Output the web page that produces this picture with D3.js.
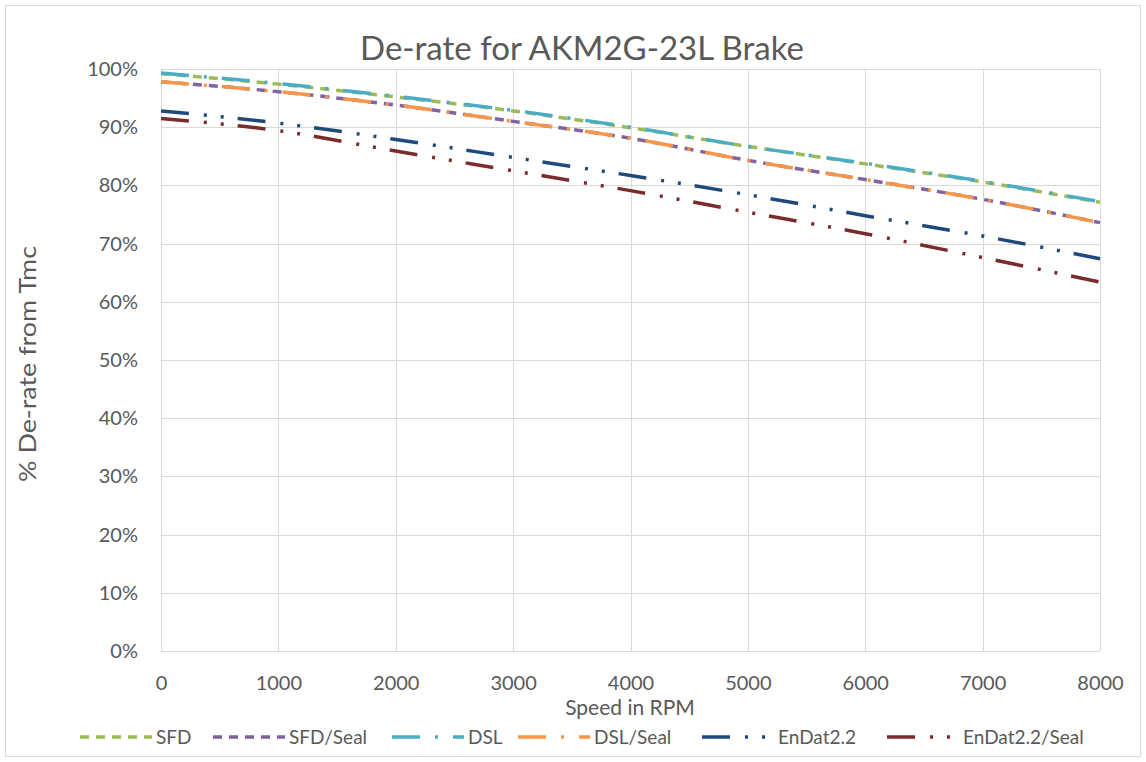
<!DOCTYPE html>
<html>
<head>
<meta charset="utf-8">
<script src="https://cdn.jsdelivr.net/npm/d3@7"></script>
<style>
  body { margin: 0; background: #fff; }
  svg { display: block; }
  text { font-family: Lato, "Open Sans", sans-serif; fill: #595959; }
</style>
</head>
<body>
<svg id="chart" width="1146" height="762"></svg>
<script>
// ---- data ----
const speeds = [0, 1000, 2000, 3000, 4000, 5000, 6000, 7000, 8000];
const seriesNames = ["SFD", "SFD/Seal", "DSL", "DSL/Seal", "EnDat2.2", "EnDat2.2/Seal"];
const sfd       = [99.2, 97.4, 95.2, 92.8, 89.9, 86.7, 83.7, 80.6, 77.1];
const sfdSeal   = [97.8, 96.1, 93.8, 91.0, 88.1, 84.3, 81.0, 77.6, 73.6];
const dsl       = [99.3, 97.5, 95.3, 92.9, 90.0, 86.7, 83.8, 80.7, 77.2];
const dslSeal   = [97.8, 96.1, 93.8, 91.0, 88.1, 84.3, 81.0, 77.6, 73.6];
const endat     = [92.8, 90.7, 87.9, 84.8, 81.7, 78.4, 74.8, 71.3, 67.4];
const endatSeal = [91.5, 89.4, 85.9, 82.5, 79.1, 75.4, 71.7, 67.6, 63.4];
const xTicks = [0, 1000, 2000, 3000, 4000, 5000, 6000, 7000, 8000];
const yTicks = [0, 10, 20, 30, 40, 50, 60, 70, 80, 90, 100];
const titleText = "De-rate for AKM2G-23L Brake";
const xTitle = "Speed in RPM";
const yTitle = "% De-rate from Tmc";

// ---- styles ----
const colors = ["#9BBB59", "#8064A2", "#4BACC6", "#F79646", "#1F497D", "#7A2B2B"];
const dashes = ["9,7", "9,7", "28,15,3,15", "28,15,3,15", "28,15,3,14,3,14", "28,15,3,14,3,14"];
const allValues = [sfd, sfdSeal, dsl, dslSeal, endat, endatSeal];

const svg = d3.select("#chart");
// outer border
svg.append("rect").attr("x", 5.5).attr("y", 5.5).attr("width", 1135).attr("height", 751)
  .attr("fill", "#fff").attr("stroke", "#d9d9d9").attr("stroke-width", 1);

const m = { left: 161, right: 1100, top: 69, bottom: 651 };
const x = d3.scaleLinear().domain([0, 8000]).range([m.left, m.right]);
const y = d3.scaleLinear().domain([0, 100]).range([m.bottom, m.top]);

// gridlines
const grid = svg.append("g");
grid.selectAll("line.h").data(yTicks).join("line")
  .attr("x1", m.left).attr("x2", m.right)
  .attr("y1", d => Math.round(y(d)) + 0.5).attr("y2", d => Math.round(y(d)) + 0.5)
  .attr("stroke", "#d9d9d9").attr("stroke-width", 1);
grid.selectAll("line.v").data(xTicks).join("line")
  .attr("y1", m.top).attr("y2", m.bottom)
  .attr("x1", d => Math.round(x(d)) + 0.5).attr("x2", d => Math.round(x(d)) + 0.5)
  .attr("stroke", "#d9d9d9").attr("stroke-width", 1);

// axes
const yAxis = d3.axisLeft(y).tickValues(yTicks).tickFormat(d => d + "%").tickSize(0).tickPadding(23);
const gy = svg.append("g").attr("transform", `translate(${m.left},0)`).call(yAxis);
gy.select(".domain").remove();
gy.selectAll("text").style("font-size", "20px").attr("fill", "#595959");

const xAxis = d3.axisBottom(x).tickValues(xTicks).tickFormat(d3.format("d")).tickSize(0).tickPadding(25);
const gx = svg.append("g").attr("transform", `translate(0,${m.bottom})`).call(xAxis);
gx.select(".domain").remove();
gx.selectAll("text").style("font-size", "20px").attr("fill", "#595959");

// series
const line = d3.line().x((d, i) => x(speeds[i])).y(d => y(d)).curve(d3.curveMonotoneX);
const gs = svg.append("g");
allValues.forEach((vals, k) => {
  gs.append("path").datum(vals).attr("d", line)
    .attr("fill", "none").attr("stroke", colors[k]).attr("stroke-width", 3.5)
    .attr("stroke-dasharray", dashes[k]);
});

// titles
svg.append("text").attr("x", 582).attr("y", 60).attr("text-anchor", "middle")
  .style("font-size", "33px").text(titleText);
svg.append("text").attr("x", 630).attr("y", 715).attr("text-anchor", "middle")
  .style("font-size", "21px").text(xTitle);
svg.append("text").attr("transform", "translate(36,364) rotate(-90)").attr("text-anchor", "middle")
  .style("font-size", "24px").attr("textLength", 236).attr("lengthAdjust", "spacingAndGlyphs")
  .text(yTitle);

// legend
const legendX = [80, 213, 392, 518, 702, 887];
const lg = svg.append("g").attr("transform", "translate(0,737)");
seriesNames.forEach((name, k) => {
  const g = lg.append("g").attr("transform", `translate(${legendX[k]},0)`);
  g.append("line").attr("x1", 0).attr("x2", 72).attr("y1", 0).attr("y2", 0)
    .attr("stroke", colors[k]).attr("stroke-width", 3.5).attr("stroke-dasharray", dashes[k]);
  g.append("text").attr("x", 76).attr("y", 7).style("font-size", "19px").text(name);
});
</script>
</body>
</html>
